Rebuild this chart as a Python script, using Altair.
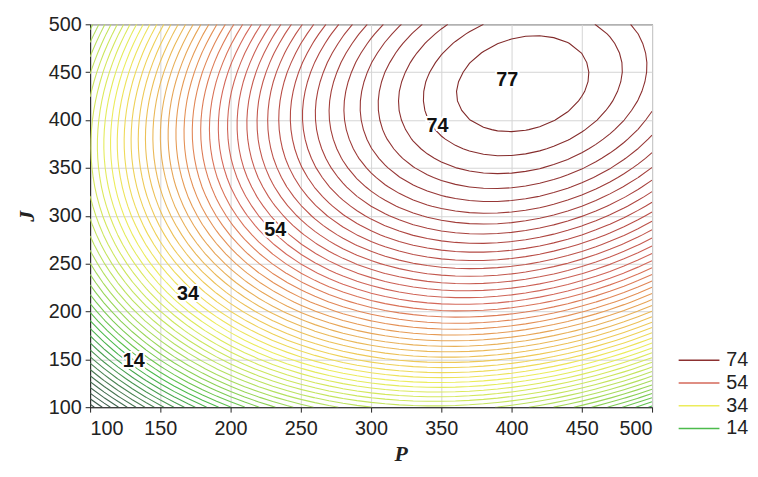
import numpy as np
import pandas as pd
import altair as alt

# ---- axis ticks ----
p_ticks = [100, 150, 200, 250, 300, 350, 400, 450, 500]
j_ticks = [100, 150, 200, 250, 300, 350, 400, 450, 500]

# ---- fitted response surface (quadratic around the peak) ----
peak_P = 408.0
peak_J = 438.0
peak_value = 78.0
curv_PP = 5.32e-4
curv_JJ = 4.7e-4
curv_PJ = 2.0e-4

# contour levels: 14 ... 74 in 7 steps per 10 units, the innermost printed as 77
level_base = 14.0
level_step = 10.0 / 7.0
level_k = list(range(-15, 45))
legend_levels = [74, 54, 34, 14]

# contour labels as printed on the picture
label_text = ["14", "34", "54", "74", "77"]
label_P = [131.0, 169.7, 231.7, 347.2, 396.9]
label_J = [148.6, 218.0, 284.6, 393.5, 442.2]

# colour ramp of the contour lines
ramp_levels = [-8, 4, 14, 24, 34, 44, 54, 64, 74, 78]
ramp_colors = ["#3a4440", "#4a7a52", "#4cbb4c", "#b4e060", "#ecec5c",
               "#e8b058", "#d4685a", "#b44a44", "#8c3030", "#7c2828"]

# ---- grid of the surface ----
grid_P = np.arange(100, 501, 10, dtype=float)
grid_J = np.arange(100, 501, 10, dtype=float)
PP, JJ = np.meshgrid(grid_P, grid_J)
u = PP - peak_P
v = JJ - peak_J
Z = peak_value - (curv_PP * u * u + curv_JJ * v * v - curv_PJ * u * v)


def contour_paths(Z, Ps, Js, L):
    above = Z >= L
    nJ, nP = Z.shape

    def pt(e):
        kind, i, j = e
        if kind == "h":
            z0, z1 = Z[j, i], Z[j, i + 1]
            t = (L - z0) / (z1 - z0)
            return (Ps[i] + t * (Ps[i + 1] - Ps[i]), Js[j])
        z0, z1 = Z[j, i], Z[j + 1, i]
        t = (L - z0) / (z1 - z0)
        return (Ps[i], Js[j] + t * (Js[j + 1] - Js[j]))

    adj = {}
    for j in range(nJ - 1):
        for i in range(nP - 1):
            edges = []
            if above[j, i] != above[j, i + 1]:
                edges.append(("h", i, j))
            if above[j, i + 1] != above[j + 1, i + 1]:
                edges.append(("v", i + 1, j))
            if above[j + 1, i] != above[j + 1, i + 1]:
                edges.append(("h", i, j + 1))
            if above[j, i] != above[j + 1, i]:
                edges.append(("v", i, j))
            pairs = []
            if len(edges) == 2:
                pairs = [(edges[0], edges[1])]
            elif len(edges) == 4:
                c = Z[j:j + 2, i:i + 2].mean() >= L
                if c == above[j, i]:
                    pairs = [(edges[0], edges[1]), (edges[2], edges[3])]
                else:
                    pairs = [(edges[0], edges[3]), (edges[1], edges[2])]
            for a, b in pairs:
                adj.setdefault(a, []).append(b)
                adj.setdefault(b, []).append(a)

    paths = []
    visited = set()
    starts = [e for e, n in adj.items() if len(n) == 1] + list(adj.keys())
    for s in starts:
        if s in visited:
            continue
        path = [s]
        visited.add(s)
        cur = s
        while True:
            nxt = [n for n in adj[cur] if n not in visited]
            if not nxt:
                if len(path) > 2 and s in adj[cur]:
                    path.append(s)
                break
            cur = nxt[0]
            visited.add(cur)
            path.append(cur)
        paths.append([pt(e) for e in path])
    return paths


rows = []
for k in level_k:
    L = level_base + k * level_step
    for n, path in enumerate(contour_paths(Z, grid_P, grid_J, L)):
        for o, (p, j) in enumerate(path):
            rows.append({"level": L, "path": f"{k}_{n}", "order": o, "P": p, "J": j})
lines_df = pd.DataFrame(rows)

labels_df = pd.DataFrame({"text": label_text, "P": label_P, "J": label_J})

x_scale = alt.Scale(domain=[100, 500], nice=False, zero=False)
y_scale = alt.Scale(domain=[100, 500], nice=False, zero=False)

x_axis = alt.Axis(values=p_ticks, title="P", grid=True, tickSize=5, labelPadding=7,
                  labelFontSize=20, labelFont="Liberation Sans", labelColor="#222",
                  titleFont="Liberation Serif", titleFontSize=22, titleFontStyle="italic",
                  titleFontWeight="bold", titlePadding=5, titleColor="#222", titleX=314,
                  domainColor="#222", tickColor="#222")
y_axis = alt.Axis(values=j_ticks, title="J", grid=True, tickSize=5, labelPadding=4,
                  labelFontSize=20, labelFont="Liberation Sans", labelColor="#222",
                  titleFont="Liberation Serif", titleFontSize=22, titleFontStyle="italic",
                  titleFontWeight="bold", titlePadding=10, titleColor="#222",
                  domainColor="#222", tickColor="#222")

lines = alt.Chart(lines_df).mark_line(strokeWidth=1.1, clip=True).encode(
    x=alt.X("P:Q", scale=x_scale, axis=x_axis),
    y=alt.Y("J:Q", scale=y_scale, axis=y_axis),
    detail="path:N",
    order="order:Q",
    color=alt.Color("level:Q",
                    scale=alt.Scale(domain=ramp_levels, range=ramp_colors),
                    legend=alt.Legend(type="symbol", values=legend_levels, title=None,
                                      symbolType="stroke", symbolSize=1700,
                                      symbolStrokeWidth=1.5, labelFontSize=20,
                                      labelFont="Liberation Sans", labelColor="#222",
                                      orient="none", legendX=594, legendY=328,
                                      clipHeight=23, rowPadding=0, labelOffset=6,
                                      padding=0)),
)

halo = alt.Chart(labels_df).mark_text(fontSize=20, fontWeight="bold", font="Liberation Sans",
                                      color="white", stroke="white", strokeWidth=4).encode(
    x=alt.X("P:Q", scale=x_scale),
    y=alt.Y("J:Q", scale=y_scale),
    text="text:N",
)
texts = alt.Chart(labels_df).mark_text(fontSize=20, fontWeight="bold",
                                       font="Liberation Sans", color="#111").encode(
    x=alt.X("P:Q", scale=x_scale),
    y=alt.Y("J:Q", scale=y_scale),
    text="text:N",
)

chart = alt.layer(lines, halo, texts).properties(
    width=568, height=387,
    autosize=alt.AutoSizeParams(type="none"),
    padding={"left": 83, "top": 14, "right": 99, "bottom": 60},
).configure_view(stroke="#222", strokeWidth=1).configure_axis(
    gridColor="#d4d4d4", gridWidth=1
)

chart.save("out.html", embed_options={"renderer": "svg", "actions": False})
